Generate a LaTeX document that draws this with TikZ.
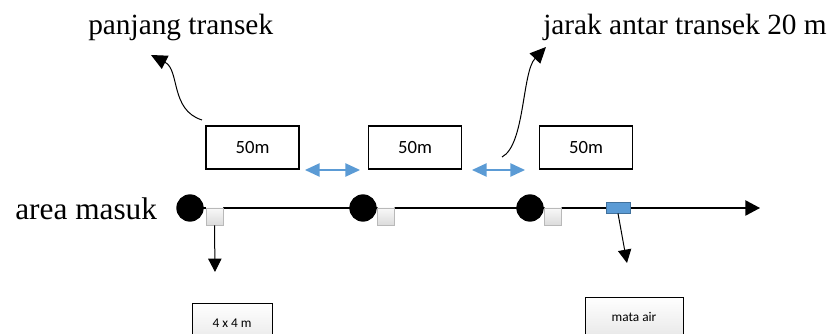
\documentclass[tikz,border=0pt]{standalone}
\usepackage{fontspec}
\setmainfont{Liberation Serif}
\newfontfamily\boxfont{Carlito}
\usetikzlibrary{arrows.meta}
\definecolor{arrowblue}{HTML}{5B9BD5}
\definecolor{springedge}{HTML}{41719C}
\tikzset{
  lenbox/.style={draw, line width=0.8pt, minimum width=69.75pt, minimum height=32.25pt,
    inner sep=0pt, font=\boxfont\fontsize{14}{16}\selectfont},
  plotbox/.style={draw, line width=0.6pt, top color=white, bottom color=gray!18,
    inner sep=0pt, font=\boxfont\fontsize{10}{12}\selectfont},
  station/.style={circle, fill=black, minimum size=20.5pt, inner sep=0pt},
  plotmark/.style={draw=gray!55, line width=0.6pt, top color=gray!5, bottom color=gray!28,
    minimum size=12.75pt, inner sep=0pt},
  spring/.style={draw=springedge, fill=arrowblue, line width=0.6pt,
    minimum width=18pt, minimum height=8.25pt, inner sep=0pt},
  label/.style={anchor=base west, inner sep=0pt, font=\fontsize{22}{26}\selectfont},
  gap/.style={draw=arrowblue, line width=1.1pt,
    {Triangle[length=11pt,width=10pt]}-{Triangle[length=11pt,width=10pt]}},
  pointer/.style={draw=black, line width=0.75pt, -{Triangle[length=12pt,width=11pt]}},
  drop/.style={draw=black, line width=0.75pt, -{Triangle[length=10pt,width=10pt]}},
  axis/.style={draw=black, line width=1pt, -{Triangle[length=11pt,width=11.5pt]}}
}
\begin{document}
\begin{tikzpicture}[x=0.75pt,y=-0.75pt]
\clip (0,0) rectangle (833,334);

% labels
\node[label] (lenlabel) at (88,35) {panjang transek};
\node[label] (gaplabel) at (543,35) {jarak antar transek 20 m};
\node[label, font=\fontsize{23.5}{28}\selectfont] (entry) at (15,220) {area masuk};

% transect length boxes
\node[lenbox] (t1) at (252.5,147.5) {50m};
\node[lenbox] (t2) at (415,147.5) {50m};
\node[lenbox] (t3) at (586,147.5) {50m};

% spacing arrows between transects
\coordinate (g1a) at (305,170);
\coordinate (g1b) at (360,170);
\coordinate (g2a) at (472,170);
\coordinate (g2b) at (525,170);
\draw[gap] (g1a) -- (g1b);
\draw[gap] (g2a) -- (g2b);

% main path
\coordinate (start) at (190,208);
\coordinate (finish) at (760,208);
\draw[axis] (start) -- (finish);

% stations and plots
\node[station] (s1) at (190,208) {};
\node[station] (s2) at (363,208) {};
\node[station] (s3) at (530,208) {};
\node[plotmark] (p1) at (214.5,216.5) {};
\node[plotmark] (p2) at (386,216.5) {};
\node[plotmark] (p3) at (553,216.5) {};
\node[spring] (w) at (618,207.5) {};

% drops to legend boxes
\coordinate (p1end) at (215,272);
\coordinate (wend) at (627,263);
\draw[drop] (p1.south) -- (p1end);
\draw[drop] (w.south) -- (wend);

\node[plotbox, minimum width=60pt, minimum height=30pt] (plot) at (232,323) {4 x 4 m};
\node[plotbox, minimum width=73.5pt, minimum height=30pt] (water) at (634,317) {mata air};

% callout arrows
\coordinate (c1tail) at (202,120);
\coordinate (c1tip) at (151,55);
\draw[pointer] (c1tail) .. controls (170,110) and (180,70) .. (c1tip);
\coordinate (c2tail) at (502,157);
\coordinate (c2tip) at (546,47);
\draw[pointer] (c2tail) .. controls (525,145) and (522,72) .. (c2tip);
\end{tikzpicture}
\end{document}
